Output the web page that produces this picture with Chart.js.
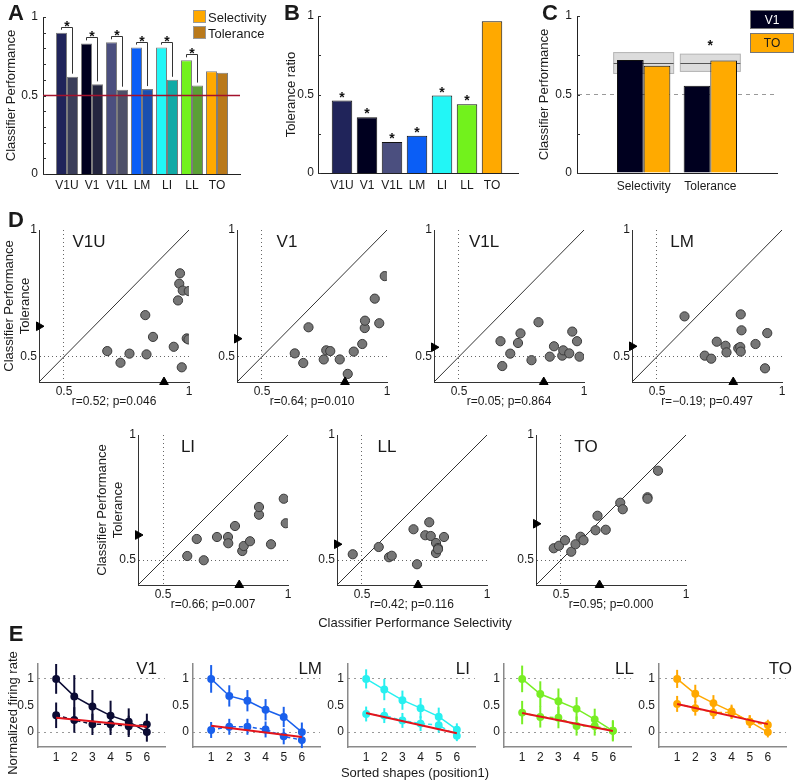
<!DOCTYPE html>
<html><head><meta charset="utf-8">
<script src="https://cdn.jsdelivr.net/npm/chart.js@4.4.1/dist/chart.umd.min.js"></script>
<style>
body{margin:0;background:#fff;}
#fig{position:relative;width:795px;height:781px;overflow:hidden;background:#fff;font-family:'Liberation Sans',Arial,sans-serif;color:#1a1a1a;}
#fig canvas{position:absolute;}
.t{position:absolute;white-space:nowrap;line-height:1;}
.box{position:absolute;box-sizing:border-box;}
</style></head><body><div id="fig"></div>
<script>
// ---------------- DATA ----------------
const AREAS = ['V1U','V1','V1L','LM','LI','LL','TO'];
// Panel A: classifier performance
const A_SELECTIVITY = [0.900, 0.832, 0.839, 0.805, 0.805, 0.724, 0.654];
const A_TOLERANCE   = [0.620, 0.571, 0.537, 0.541, 0.600, 0.563, 0.645];
const A_SIG         = [true, true, true, true, true, true, false];
const CHANCE = 0.5;
// Panel B: tolerance ratio
const B_RATIO = [0.461, 0.355, 0.197, 0.237, 0.493, 0.438, 0.966];
const B_SIG   = [true, true, true, true, true, true, false];
// Panel C
const C_GROUPS = ['Selectivity', 'Tolerance'];
const C_V1 = [0.719, 0.556];
const C_TO = [0.683, 0.717];
const C_BAND_LOW  = [0.634, 0.647];
const C_BAND_MID  = [0.700, 0.698];
const C_BAND_HIGH = [0.767, 0.757];
const C_SIG = [false, true];
// Panel D: per-site selectivity (x) vs tolerance (y)
const D_V1U_SEL = [0.673,0.726,0.762,0.830,0.825,0.856,0.939,0.971,0.956,0.961,0.964,0.975,0.999,0.991,0.998];
const D_V1U_TOL = [0.522,0.476,0.512,0.509,0.664,0.578,0.539,0.458,0.722,0.788,0.829,0.761,0.759,0.572,0.568];
const D_V1_SEL  = [0.631,0.665,0.686,0.747,0.757,0.773,0.811,0.843,0.867,0.901,0.911,0.912,0.969,0.951,0.991];
const D_V1_TOL  = [0.513,0.475,0.616,0.489,0.525,0.522,0.489,0.432,0.520,0.550,0.613,0.642,0.632,0.729,0.818];
const D_V1L_SEL = [0.666,0.673,0.705,0.736,0.746,0.790,0.818,0.863,0.880,0.913,0.917,0.941,0.953,0.972,0.982];
const D_V1L_TOL = [0.561,0.463,0.512,0.554,0.592,0.486,0.636,0.500,0.541,0.504,0.525,0.513,0.599,0.561,0.500];
const D_LM_SEL  = [0.610,0.691,0.717,0.739,0.774,0.778,0.825,0.833,0.835,0.838,0.835,0.894,0.932,0.941];
const D_LM_TOL  = [0.659,0.504,0.492,0.559,0.543,0.517,0.533,0.538,0.667,0.604,0.520,0.550,0.454,0.593];
const D_LI_SEL  = [0.597,0.635,0.663,0.716,0.760,0.761,0.788,0.817,0.823,0.848,0.884,0.884,0.932,0.983,0.991];
const D_LI_TOL  = [0.516,0.584,0.499,0.592,0.592,0.567,0.636,0.536,0.556,0.575,0.681,0.712,0.563,0.745,0.647];
const D_LL_SEL  = [0.463,0.567,0.608,0.619,0.706,0.720,0.753,0.769,0.775,0.796,0.796,0.804,0.804,0.828];
const D_LL_TOL  = [0.523,0.552,0.511,0.517,0.623,0.483,0.599,0.651,0.596,0.568,0.528,0.548,0.543,0.592];
const D_TO_SEL  = [0.471,0.492,0.516,0.541,0.558,0.578,0.590,0.638,0.646,0.679,0.737,0.747,0.846,0.846,0.888];
const D_TO_TOL  = [0.547,0.557,0.579,0.533,0.563,0.593,0.579,0.619,0.677,0.621,0.729,0.703,0.751,0.745,0.857];
const D_STATS = ['r=0.52; p=0.046','r=0.64; p=0.010','r=0.05; p=0.864','r=\u22120.19; p=0.497','r=0.66; p=0.007','r=0.42; p=0.116','r=0.95; p=0.000'];
const D_TICKS = [0.5, 1];
// Panel E: normalized firing rate vs sorted shape rank
const E_AREAS = ['V1','LM','LI','LL','TO'];
const E_RANKS = [1,2,3,4,5,6];
const E_V1_UP  = [1.00,0.671,0.481,0.310,0.196,0.000];
const E_V1_UP_ERR = [0.28,0.40,0.31,0.28,0.25,0.18];
const E_V1_LO  = [0.316,0.228,0.146,0.146,0.108,0.146];
const E_V1_LO_ERR = [0.24,0.24,0.20,0.20,0.20,0.20];
const E_V1_FIT = [0.27,0.10];
const E_LM_UP  = [1.00,0.68,0.59,0.42,0.285,0.00];
const E_LM_UP_ERR = [0.26,0.20,0.20,0.20,0.19,0.18];
const E_LM_LO  = [0.04,0.10,0.10,0.05,-0.08,-0.15];
const E_LM_LO_ERR = [0.15,0.15,0.15,0.15,0.15,0.15];
const E_LM_FIT = [0.12,-0.09];
const E_LI_UP  = [1.00,0.80,0.60,0.45,0.29,0.045];
const E_LI_UP_ERR = [0.18,0.20,0.18,0.19,0.17,0.12];
const E_LI_LO  = [0.34,0.31,0.22,0.16,0.13,-0.07];
const E_LI_LO_ERR = [0.14,0.14,0.14,0.14,0.14,0.10];
const E_LI_FIT = [0.36,-0.02];
const E_LL_UP  = [1.00,0.715,0.58,0.437,0.24,0.025];
const E_LL_UP_ERR = [0.25,0.24,0.24,0.22,0.20,0.20];
const E_LL_LO  = [0.367,0.285,0.272,0.114,0.114,0.025];
const E_LL_LO_ERR = [0.22,0.20,0.20,0.18,0.18,0.18];
const E_LL_FIT = [0.36,0.02];
const E_TO_UP  = [1.00,0.72,0.545,0.386,0.196,0.00];
const E_TO_UP_ERR = [0.17,0.17,0.15,0.13,0.12,0.10];
const E_TO_LO  = [0.53,0.45,0.367,0.367,0.196,0.133];
const E_TO_LO_ERR = [0.15,0.14,0.12,0.12,0.12,0.10];
const E_TO_FIT = [0.53,0.15];

// ---------------- STYLE ----------------
const SEL_COLORS = ['#20245a','#00001f','#4b4f7f','#0a5ef6','#22f6f6','#72f21c','#ffa900'];
const TOL_COLORS = ['#3b3e5a','#24263f','#4e5068','#1a50b0','#12aaa6','#5ba036','#b9791b'];
const E_COLORS = ['#0c0c34','#1a60ec','#28f0f0','#78ee24','#ffa800'];
const FONT = "'Liberation Sans', Arial, sans-serif";

Chart.defaults.font.family = FONT;
Chart.defaults.font.size = 12;
Chart.defaults.color = '#1a1a1a';
Chart.defaults.animation = false;
Chart.defaults.plugins.legend.display = false;
Chart.defaults.plugins.tooltip.enabled = false;

const fig = document.getElementById('fig');
const fmt = v => String(v);
function place(cfg, box, area) {
  const c = document.createElement('canvas');
  c.width = box.w; c.height = box.h;
  Object.assign(c.style, {left: box.l + 'px', top: box.t + 'px', width: box.w + 'px', height: box.h + 'px'});
  fig.appendChild(c);
  const o = cfg.options;
  o.responsive = false; o.maintainAspectRatio = false; o.devicePixelRatio = 1; o.animation = false;
  o.layout = {padding: {left: 0, top: area.t - box.t, right: box.l + box.w - area.r, bottom: 0}};
  o.scales.x.afterFit = s => { s.height = box.t + box.h - area.b; };
  o.scales.y.afterFit = s => { s.width = area.l - box.l; };
  return new Chart(c, cfg);
}
function txt(s, x, y, o = {}) {
  const d = document.createElement('div');
  d.className = 't'; d.textContent = s;
  d.style.left = x + 'px'; d.style.top = y + 'px';
  d.style.fontSize = (o.size || 12) + 'px';
  if (o.bold) d.style.fontWeight = 'bold';
  if (o.color) d.style.color = o.color;
  const ax = o.align === 'left' ? '0' : o.align === 'right' ? '-100%' : '-50%';
  d.style.transform = `translate(${ax},-50%)` + (o.rot ? ` rotate(${o.rot}deg)` : '');
  fig.appendChild(d); return d;
}
function rect(x, y, w, h, bg, bd) {
  const d = document.createElement('div'); d.className = 'box';
  Object.assign(d.style, {left: x + 'px', top: y + 'px', width: w + 'px', height: h + 'px', background: bg, border: '1px solid ' + bd});
  fig.appendChild(d);
}
const fixedTicks = vals => s => { s.ticks = vals.map(v => ({value: v})); };
const range = (a, b, st) => { const r = []; for (let v = a; v <= b + 1e-9; v += st) r.push(Math.round(v * 1000) / 1000); return r; };

// ---------------- PLUGINS ----------------
const inTicks = {id: 'inTicks', afterDraw(chart, args, o) {
  if (!o || !o.y) return;
  const ctx = chart.ctx, a = chart.chartArea, ys = chart.scales.y;
  ctx.save(); ctx.strokeStyle = o.color || '#333'; ctx.lineWidth = 1;
  o.y.forEach(v => { const y = Math.round(ys.getPixelForValue(v)) + 0.5; ctx.beginPath(); ctx.moveTo(a.left, y); ctx.lineTo(a.left + (o.len || 3), y); ctx.stroke(); });
  ctx.restore();
}};
function star(ctx, x, y) {
  ctx.save(); ctx.fillStyle = '#111'; ctx.font = 'bold 14px ' + FONT; ctx.textAlign = 'center'; ctx.textBaseline = 'alphabetic';
  ctx.fillText('*', x, y + 8); ctx.restore();
}
const brackets = {id: 'brackets', afterDatasetsDraw(chart, args, o) {
  if (!o || !o.sig) return;
  const ctx = chart.ctx;
  const m0 = chart.getDatasetMeta(o.a), m1 = chart.getDatasetMeta(o.b);
  ctx.save(); ctx.strokeStyle = '#333'; ctx.lineWidth = 1;
  o.sig.forEach((s, i) => {
    if (!s) return;
    const e0 = m0.data[i], e1 = m1.data[i];
    const yTop = Math.round(Math.min(e0.y, e1.y) - 6) + 0.5;
    ctx.beginPath(); ctx.moveTo(e0.x, e0.y - 3); ctx.lineTo(e0.x, yTop); ctx.lineTo(e1.x, yTop); ctx.lineTo(e1.x, e1.y - 3); ctx.stroke();
    star(ctx, (e0.x + e1.x) / 2, yTop - 5);
  });
  ctx.restore();
}};
const barStars = {id: 'barStars', afterDatasetsDraw(chart, args, o) {
  if (!o || !o.sig) return;
  const m = chart.getDatasetMeta(o.ds);
  o.sig.forEach((s, i) => { if (s) star(chart.ctx, m.data[i].x, m.data[i].y - 7); });
}};
const bands = {id: 'bands', beforeDatasetsDraw(chart, args, o) {
  if (!o || !o.low) return;
  const ctx = chart.ctx, xs = chart.scales.x, ys = chart.scales.y;
  ctx.save();
  o.low.forEach((lo, i) => {
    const x0 = xs.getPixelForValue(i + 1 - o.half), x1 = xs.getPixelForValue(i + 1 + o.half);
    const yl = ys.getPixelForValue(lo), yh = ys.getPixelForValue(o.high[i]), ym = Math.round(ys.getPixelForValue(o.mid[i])) + 0.5;
    ctx.fillStyle = '#dcdcdc'; ctx.fillRect(x0, yh, x1 - x0, yl - yh);
    ctx.strokeStyle = '#b4b4b4'; ctx.lineWidth = 1; ctx.strokeRect(x0, yh, x1 - x0, yl - yh);
    ctx.strokeStyle = '#555'; ctx.beginPath(); ctx.moveTo(x0, ym); ctx.lineTo(x1, ym); ctx.stroke();
  });
  ctx.restore();
}, afterDatasetsDraw(chart, args, o) {
  if (!o || !o.sig) return;
  const xs = chart.scales.x, ys = chart.scales.y;
  o.sig.forEach((s, i) => { if (s) star(chart.ctx, xs.getPixelForValue(i + 1), ys.getPixelForValue(o.high[i]) - 12); });
}};
const errBars = {id: 'errBars', beforeDatasetsDraw(chart) {
  const ctx = chart.ctx, ys = chart.scales.y;
  chart.data.datasets.forEach((ds, di) => {
    if (!ds.errors) return;
    const meta = chart.getDatasetMeta(di);
    ctx.save(); ctx.strokeStyle = ds.borderColor; ctx.lineWidth = 2;
    meta.data.forEach((p, i) => {
      const v = ds.data[i].y, e = ds.errors[i];
      ctx.beginPath(); ctx.moveTo(p.x, ys.getPixelForValue(v + e)); ctx.lineTo(p.x, ys.getPixelForValue(v - e)); ctx.stroke();
    });
    ctx.restore();
  });
}};

// ---------------- PANEL A ----------------
const A_XMIN = 0.04, A_XMAX = 7.92;
place({
  type: 'bar',
  data: {datasets: [
    {data: AREAS.map((a, i) => ({x: i + 1, y: A_SELECTIVITY[i]})), backgroundColor: SEL_COLORS, borderColor: 'rgba(70,70,70,0.7)', borderWidth: 1, categoryPercentage: 0.88, barPercentage: 1},
    {data: AREAS.map((a, i) => ({x: i + 1, y: A_TOLERANCE[i]})), backgroundColor: TOL_COLORS, borderColor: 'rgba(70,70,70,0.7)', borderWidth: 1, categoryPercentage: 0.88, barPercentage: 1},
    {type: 'line', data: [{x: A_XMIN, y: CHANCE}, {x: A_XMAX, y: CHANCE}], borderColor: '#a3122c', borderWidth: 1.5, pointRadius: 0, order: -1}
  ]},
  options: {
    scales: {
      x: {type: 'linear', min: A_XMIN, max: A_XMAX, offset: false, grid: {display: false, drawTicks: false}, border: {color: '#222'},
          afterBuildTicks: fixedTicks(AREAS.map((a, i) => i + 1)), ticks: {callback: v => AREAS[v - 1], padding: 4, maxRotation: 0, autoSkip: false}},
      y: {min: 0, max: 1, grid: {display: false, drawTicks: false}, border: {color: '#222'}, afterBuildTicks: fixedTicks([0, 0.5, 1]), ticks: {padding: 5, callback: fmt},
          title: {display: true, text: 'Classifier Performance', font: {size: 13}, padding: {top: 4, bottom: 0}}}
    },
    plugins: {inTicks: {y: range(0, 1, 0.1)}, brackets: {sig: A_SIG, a: 0, b: 1}}
  },
  plugins: [inTicks, brackets]
}, {l: 0, t: 0, w: 255, h: 200}, {l: 43, t: 17, r: 240, b: 174});

// ---------------- PANEL B ----------------
const B_XMIN = 0.04, B_XMAX = 8.04;
place({
  type: 'bar',
  data: {datasets: [
    {data: AREAS.map((a, i) => ({x: i + 1, y: B_RATIO[i]})), backgroundColor: SEL_COLORS, borderColor: '#111', borderWidth: 1, categoryPercentage: 0.82, barPercentage: 1}
  ]},
  options: {
    scales: {
      x: {type: 'linear', min: B_XMIN, max: B_XMAX, offset: false, grid: {display: false, drawTicks: false}, border: {color: '#222'},
          afterBuildTicks: fixedTicks(AREAS.map((a, i) => i + 1)), ticks: {callback: v => AREAS[v - 1], padding: 5, maxRotation: 0, autoSkip: false}},
      y: {min: 0, max: 1, grid: {display: false, drawTicks: false}, border: {color: '#222'}, afterBuildTicks: fixedTicks([0, 0.5, 1]), ticks: {padding: 4, callback: fmt},
          title: {display: true, text: 'Tolerance ratio', font: {size: 13}, padding: {top: 24, bottom: 0}}}
    },
    plugins: {inTicks: {y: range(0, 1, 0.25)}, barStars: {sig: B_SIG, ds: 0}}
  },
  plugins: [inTicks, barStars]
}, {l: 260, t: 0, w: 265, h: 200}, {l: 318, t: 16, r: 518, b: 173});

// ---------------- PANEL C ----------------
place({
  type: 'bar',
  data: {datasets: [
    {data: C_GROUPS.map((g, i) => ({x: i + 1, y: C_V1[i]})), backgroundColor: '#00001f', borderColor: '#111', borderWidth: 1, categoryPercentage: 0.8, barPercentage: 1},
    {data: C_GROUPS.map((g, i) => ({x: i + 1, y: C_TO[i]})), backgroundColor: '#ffaa00', borderColor: '#111', borderWidth: 1, categoryPercentage: 0.8, barPercentage: 1}
  ]},
  options: {
    scales: {
      x: {type: 'linear', min: 0, max: 3, offset: false, grid: {display: false, drawTicks: false}, border: {color: '#222'},
          afterBuildTicks: fixedTicks([1, 2]), ticks: {callback: v => C_GROUPS[v - 1], padding: 6, maxRotation: 0, autoSkip: false}},
      y: {min: 0, max: 1, afterBuildTicks: fixedTicks([0, 0.5, 1]), ticks: {padding: 5, callback: fmt},
          grid: {drawTicks: false, color: c => (c.tick && c.tick.value === CHANCE) ? '#999' : 'rgba(0,0,0,0)'},
          border: {color: '#222', dash: [4, 4]},
          title: {display: true, text: 'Classifier Performance', font: {size: 13}, padding: {top: 27, bottom: 0}}}
    },
    plugins: {inTicks: {y: range(0, 1, 0.25)}, bands: {low: C_BAND_LOW, mid: C_BAND_MID, high: C_BAND_HIGH, half: 0.45, sig: C_SIG}}
  },
  plugins: [inTicks, bands]
}, {l: 510, t: 0, w: 285, h: 200}, {l: 577, t: 16, r: 777, b: 173});

// ---------------- PANEL D ----------------
const D_MIN = 0.4, D_MAX = 1;
const D_SETS = [[D_V1U_SEL, D_V1U_TOL], [D_V1_SEL, D_V1_TOL], [D_V1L_SEL, D_V1L_TOL], [D_LM_SEL, D_LM_TOL], [D_LI_SEL, D_LI_TOL], [D_LL_SEL, D_LL_TOL], [D_TO_SEL, D_TO_TOL]];
const D_POS = [[39, 230, 382], [237, 230, 382], [434, 230, 382], [632, 230, 382], [138, 435, 585], [337, 435, 585], [536, 435, 585]];
const dotGrid = c => (c.tick && c.tick.value === 0.5) ? '#666' : 'rgba(0,0,0,0)';
D_SETS.forEach(([sel, tol], k) => {
  const [L, T, B] = D_POS[k];
  const first = (k === 0 || k === 4);
  const box = {l: Math.max(0, first ? L - 43 : L - 39), t: T - 15, h: 200};
  box.w = L + 158 - box.l;
  place({
    type: 'scatter',
    data: {datasets: [
      {data: [{x: A_SELECTIVITY[k], y: D_MIN}], pointStyle: 'triangle', pointRadius: 5, rotation: 0, backgroundColor: '#000', borderColor: '#000', borderWidth: 1, clip: false},
      {data: [{x: D_MIN, y: A_TOLERANCE[k]}], pointStyle: 'triangle', pointRadius: 5, rotation: 90, backgroundColor: '#000', borderColor: '#000', borderWidth: 1, clip: false},
      {data: sel.map((s, i) => ({x: s, y: tol[i]})), pointRadius: 4.6, backgroundColor: '#767676', borderColor: '#3a3a3a', borderWidth: 1},
      {type: 'line', data: [{x: D_MIN, y: D_MIN}, {x: D_MAX, y: D_MAX}], borderColor: '#333', borderWidth: 1, pointRadius: 0}
    ]},
    options: {
      scales: {
        x: {type: 'linear', min: D_MIN, max: D_MAX, afterBuildTicks: fixedTicks(D_TICKS), ticks: {padding: 2, callback: fmt},
            grid: {drawTicks: false, color: dotGrid}, border: {color: '#333', dash: [1, 3]},
            title: {display: true, text: D_STATS[k], font: {size: 12}, padding: {top: 0, bottom: k < 4 ? 6 : 8}}},
        y: {min: D_MIN, max: D_MAX, afterBuildTicks: fixedTicks(D_TICKS), ticks: {padding: 2, callback: fmt},
            grid: {drawTicks: false, color: dotGrid}, border: {color: '#333', dash: [1, 3]},
            title: first ? {display: true, text: ['Classifier Performance', 'Tolerance'], font: {size: 13}, padding: {top: k === 0 ? 2 : 0, bottom: 0}} : {display: false}}
      }
    }
  }, box, {l: L, t: T, r: L + 150, b: B});
  txt(AREAS[k], L + 50, T + 11, {size: 17});
});
txt('Classifier Performance Selectivity', 415, 622, {size: 13});

// ---------------- PANEL E ----------------
const E_SETS = [[E_V1_UP, E_V1_UP_ERR, E_V1_LO, E_V1_LO_ERR, E_V1_FIT], [E_LM_UP, E_LM_UP_ERR, E_LM_LO, E_LM_LO_ERR, E_LM_FIT],
  [E_LI_UP, E_LI_UP_ERR, E_LI_LO, E_LI_LO_ERR, E_LI_FIT], [E_LL_UP, E_LL_UP_ERR, E_LL_LO, E_LL_LO_ERR, E_LL_FIT], [E_TO_UP, E_TO_UP_ERR, E_TO_LO, E_TO_LO_ERR, E_TO_FIT]];
const E_LEFT = [38, 193, 348, 504, 659];
const E_TITLE_RIGHT = [157, 322, 470, 634, 792];
const E_YMIN = -0.28, E_YMAX = 1.28;
E_SETS.forEach(([up, upE, lo, loE, fit], k) => {
  const L = E_LEFT[k], col = E_COLORS[k];
  const box = {l: L - 38, t: 650, w: 38 + 136, h: 118};
  place({
    type: 'line',
    data: {datasets: [
      {data: [{x: E_RANKS[0], y: fit[0]}, {x: E_RANKS[E_RANKS.length - 1], y: fit[1]}], borderColor: '#e3141c', borderWidth: 2, pointRadius: 0, order: -1},
      {data: E_RANKS.map((r, i) => ({x: r, y: up[i]})), errors: upE, borderColor: col, backgroundColor: col, borderWidth: 1.5, pointRadius: 3.2},
      {data: E_RANKS.map((r, i) => ({x: r, y: lo[i]})), errors: loE, borderColor: col, backgroundColor: col, borderWidth: 1.5, borderDash: [4, 3], pointRadius: 3.2}
    ]},
    options: {
      scales: {
        x: {type: 'linear', min: 0, max: 7, afterBuildTicks: fixedTicks(E_RANKS), ticks: {padding: 3, callback: fmt}, grid: {display: false, drawTicks: false}, border: {color: '#8a8a8a', width: 1.5}},
        y: {min: E_YMIN, max: E_YMAX, afterBuildTicks: fixedTicks([0, 0.5, 1]), ticks: {padding: 4, callback: fmt},
            grid: {drawTicks: false, color: c => (c.tick && (c.tick.value === 0 || c.tick.value === 1)) ? '#333' : 'rgba(0,0,0,0)'},
            border: {color: '#8a8a8a', width: 1.5, dash: [1, 5]}}
      }
    },
    plugins: [errBars]
  }, box, {l: L, t: 664, r: L + 127, b: 747});
  txt(E_AREAS[k], E_TITLE_RIGHT[k], 668, {size: 17, align: 'right'});
});
txt('Normalized firing rate', 12, 713, {size: 13, rot: -90});
txt('Sorted shapes (position1)', 415, 772, {size: 13});

// ---------------- LABELS / LEGENDS ----------------
txt('A', 16, 13, {size: 22, bold: true});
txt('B', 292, 13, {size: 22, bold: true});
txt('C', 550, 13, {size: 22, bold: true});
txt('D', 16, 220, {size: 22, bold: true});
txt('E', 16, 634, {size: 22, bold: true});
rect(193, 10, 13, 13, '#ffa900', '#999');
txt('Selectivity', 208, 16.5, {size: 13, align: 'left'});
rect(193, 26, 13, 13, '#b9791b', '#999');
txt('Tolerance', 208, 32.5, {size: 13, align: 'left'});
rect(750, 10, 44, 19, '#00001f', '#777');
txt('V1', 772, 19.5, {size: 12, color: '#fff'});
rect(750, 33, 44, 20, '#ffaa00', '#777');
txt('TO', 772, 43, {size: 12});
</script></body></html>
